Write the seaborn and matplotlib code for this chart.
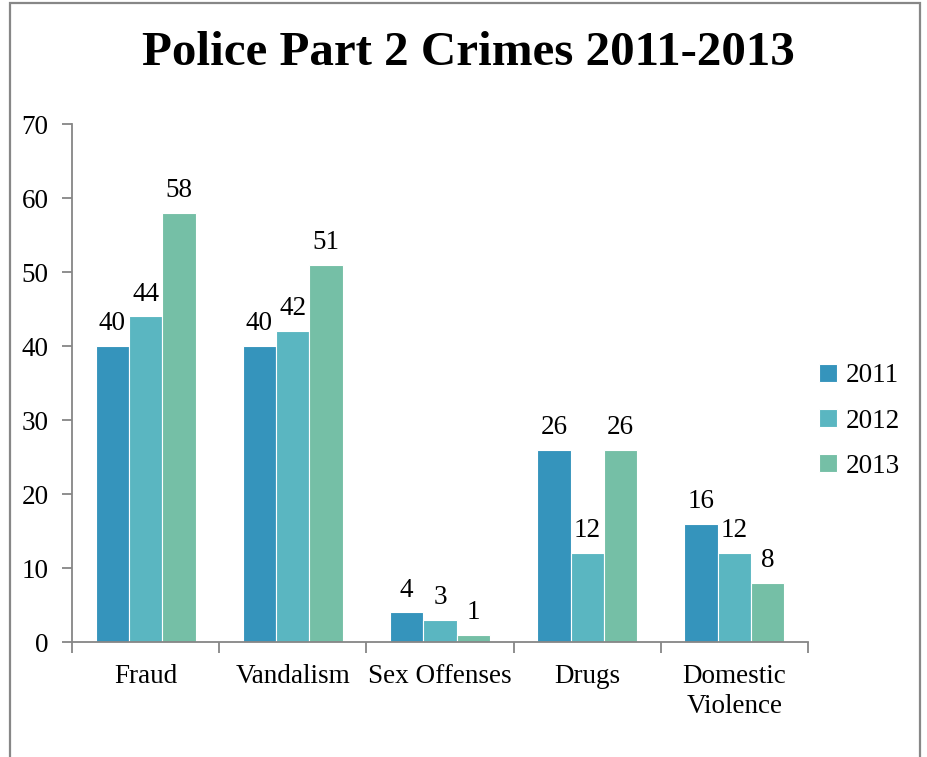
import matplotlib
matplotlib.use("Agg")
import matplotlib.pyplot as plt
import seaborn as sns
import pandas as pd
from matplotlib.patches import Rectangle

categories = ["Fraud", "Vandalism", "Sex Offenses", "Drugs", "Domestic\nViolence"]
years = ["2011", "2012", "2013"]
values_2011 = [40, 40, 4, 26, 16]
values_2012 = [44, 42, 3, 12, 12]
values_2013 = [58, 51, 1, 26, 8]
colors = ["#3594BC", "#5AB6C1", "#75BFA6"]
y_ticks = [0, 10, 20, 30, 40, 50, 60, 70]

rows = []
for yr, vals in zip(years, [values_2011, values_2012, values_2013]):
    for c, v in zip(categories, vals):
        rows.append({"Category": c, "Year": yr, "Count": v})
df = pd.DataFrame(rows)

sns.set_theme(style="white")
plt.rcParams["font.family"] = ["Liberation Serif", "DejaVu Serif"]
plt.rcParams["text.color"] = "black"
plt.rcParams["xtick.labelcolor"] = "black"
plt.rcParams["ytick.labelcolor"] = "black"

FS = 19.5

fig = plt.figure(figsize=(9.28, 7.57), dpi=100)
ax = fig.add_axes([72/928, 1-642/757, (808-72)/928, (642-124)/757])

sns.barplot(data=df, x="Category", y="Count", hue="Year", order=categories,
            hue_order=years, palette=colors, width=0.68, ax=ax,
            edgecolor="white", linewidth=0.8, saturation=1)

for cont in ax.containers:
    ax.bar_label(cont, padding=7, fontsize=FS, color="black")

ax.set_ylim(0, 70)
ax.set_xlim(-0.5, 4.5)
ax.set_yticks(y_ticks)
ax.set_xlabel("")
ax.set_ylabel("")
axis_gray = "#868686"
for s in ["top", "right"]:
    ax.spines[s].set_visible(False)
for s in ["left", "bottom"]:
    ax.spines[s].set_color(axis_gray)
    ax.spines[s].set_linewidth(1.3)
ax.tick_params(axis="y", which="major", direction="out", length=7, width=1.3,
               color=axis_gray, labelsize=FS, pad=10, left=True)
ax.tick_params(axis="x", which="major", length=0, labelsize=FS, pad=16)
ax.set_xticks([-0.5, 0.5, 1.5, 2.5, 3.5, 4.5], minor=True)
ax.tick_params(axis="x", which="minor", direction="out", length=8, width=1.3,
               color=axis_gray, bottom=True)
for lbl in ax.get_xticklabels():
    lbl.set_linespacing(1.25)

handles, labels = ax.get_legend_handles_labels()
ax.get_legend().remove()
fig.legend(handles, labels, loc="center left", bbox_to_anchor=(800/928, 1-421/757),
           frameon=False, fontsize=FS, handlelength=0.65, handleheight=0.65,
           handletextpad=0.35, labelspacing=0.75, borderpad=0.2)

fig.text(468/928, 1-53/757, "Police Part 2 Crimes 2011-2013", ha="center", va="center",
         fontsize=35.3, fontweight="bold", color="black")

fig.patches.append(Rectangle((10/928, -0.05), (920-10)/928, 1.05 - 3/757,
                             transform=fig.transFigure, fill=False,
                             edgecolor="#878787", linewidth=1.6))

fig.savefig("out.png", dpi=100)
